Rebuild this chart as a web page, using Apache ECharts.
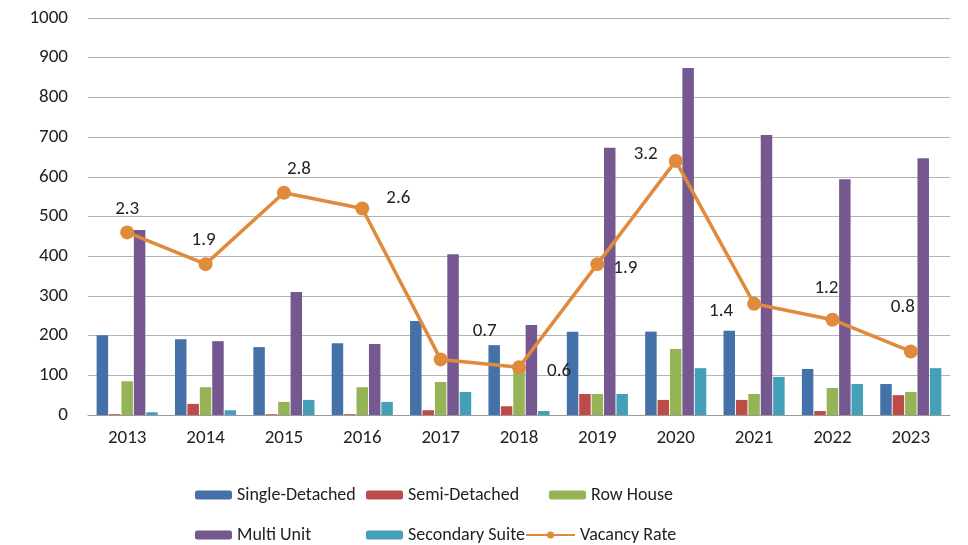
<!DOCTYPE html>
<html>
<head>
<meta charset="utf-8">
<script src="https://cdn.jsdelivr.net/npm/echarts@6/dist/echarts.min.js"></script>
<style>
  html, body { margin: 0; padding: 0; background: #fff; }
  #chart { width: 968px; height: 545px; }
</style>
</head>
<body>
<div id="chart"></div>
<script>
// data
var years = ['2013', '2014', '2015', '2016', '2017', '2018', '2019', '2020', '2021', '2022', '2023']
var singleDetached = [201, 191, 171, 181, 237, 176, 210, 210, 212, 116, 78]
var semiDetached = [2, 28, 2, 2, 12, 22, 53, 38, 38, 10, 50]
var rowHouse = [85, 70, 33, 70, 83, 113, 53, 166, 53, 68, 58]
var multiUnit = [466, 186, 310, 179, 405, 227, 673, 874, 705, 594, 647]
var secondarySuite = [7, 12, 38, 33, 58, 10, 53, 118, 96, 78, 118]
var vacancyRate = [2.3, 1.9, 2.8, 2.6, 0.7, 0.6, 1.9, 3.2, 1.4, 1.2, 0.8]
var yTicks = [0, 1000, 100]

// where each vacancy label sits around its point
var labelPlace = [
  { position: 'top', offset: [0, -2] },
  { position: 'top', offset: [-2, -2] },
  { position: 'top', offset: [15, -2] },
  { position: 'right', offset: [12, -10] },
  { position: 'right', offset: [20, -28] },
  { position: 'right', offset: [16, 4] },
  { position: 'right', offset: [4, 4] },
  { position: 'left', offset: [-6, -7] },
  { position: 'left', offset: [-9, 7] },
  { position: 'top', offset: [-6, -10] },
  { position: 'top', offset: [-8, -23] }
]

var chart = echarts.init(document.getElementById('chart'))
var font = 'Carlito, "Liberation Sans", "DejaVu Sans", sans-serif'

function barSeries (name, data, color) {
  return {
    name: name,
    type: 'bar',
    data: data,
    barGap: '8%',
    barCategoryGap: '22%',
    itemStyle: { color: color }
  }
}

function legendAt (name, left, top, width) {
  return {
    left: left,
    top: top,
    itemWidth: width || 37,
    itemHeight: 9,
    itemGap: 0,
    textStyle: { fontSize: 18, color: '#222', fontFamily: font },
    data: [name]
  }
}

chart.setOption({
  animation: false,
  textStyle: { fontFamily: font },
  grid: { left: 88, right: 18, top: 18, bottom: 130 },
  legend: [
    legendAt('Single-Detached', 190, 481),
    legendAt('Semi-Detached', 361, 481),
    legendAt('Row House', 544, 481),
    legendAt('Multi Unit', 190, 521),
    legendAt('Secondary Suite', 361, 521),
    legendAt('Vacancy Rate', 520, 521, 49)
  ],
  xAxis: {
    type: 'category',
    data: years,
    axisLine: { lineStyle: { color: '#9a9a9a', width: 1 } },
    axisTick: { show: false },
    axisLabel: { fontSize: 19, color: '#222', margin: 14 }
  },
  yAxis: [
    {
      type: 'value',
      min: yTicks[0],
      max: yTicks[1],
      interval: yTicks[2],
      axisLine: { show: false },
      axisTick: { show: false },
      splitLine: { lineStyle: { color: '#b4b4b4', width: 1 } },
      axisLabel: {
        fontSize: 19,
        color: '#222',
        margin: 20,
        formatter: function (v) { return String(v) }
      }
    },
    {
      type: 'value',
      min: 0,
      max: 5,
      show: false
    }
  ],
  series: [
    barSeries('Single-Detached', singleDetached, '#4471a8'),
    barSeries('Semi-Detached', semiDetached, '#bd4b48'),
    barSeries('Row House', rowHouse, '#95b456'),
    barSeries('Multi Unit', multiUnit, '#75588f'),
    barSeries('Secondary Suite', secondarySuite, '#43a0b8'),
    {
      name: 'Vacancy Rate',
      type: 'line',
      yAxisIndex: 1,
      symbol: 'circle',
      symbolSize: 14,
      z: 5,
      lineStyle: { color: '#e08a3c', width: 3.5 },
      itemStyle: { color: '#e08a3c' },
      label: { show: true, fontSize: 19, color: '#222' },
      data: vacancyRate.map(function (v, i) {
        return { value: v, label: labelPlace[i] }
      })
    }
  ]
})
</script>
</body>
</html>
